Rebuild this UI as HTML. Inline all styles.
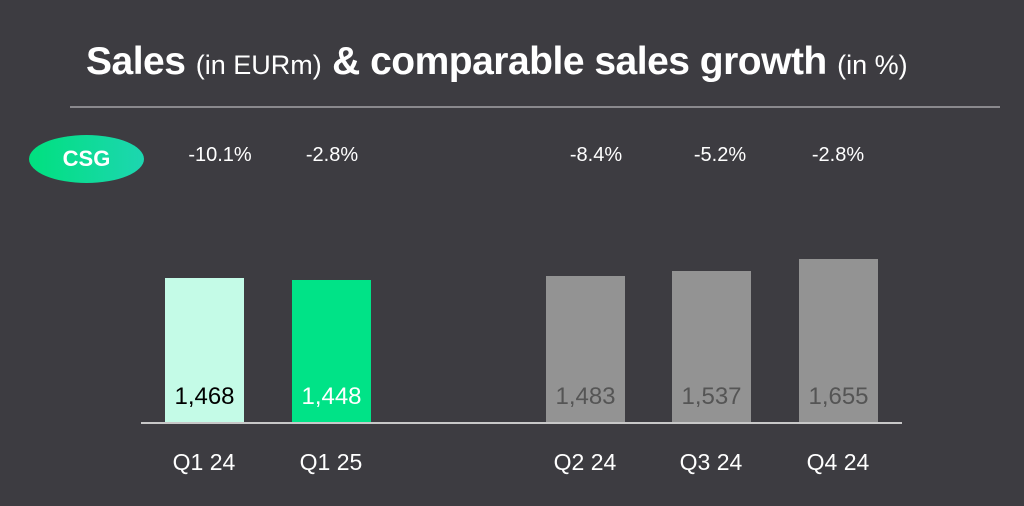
<!DOCTYPE html>
<html><head><style>
body{margin:0;width:1024px;height:506px;background:#3d3c41;font-family:"Liberation Sans",sans-serif;overflow:hidden;position:relative;color:#fff}
.a{position:absolute}
.t{left:86px;top:40px;font-size:39px;font-weight:bold;white-space:nowrap;letter-spacing:-0.5px}
.t span{font-weight:normal;font-size:27px;letter-spacing:0}
.bar{position:absolute;width:79px}
.v{position:absolute;width:79px;text-align:center;font-size:24px;top:383px}
.p{position:absolute;width:120px;text-align:center;font-size:20px;top:144px}
.q{position:absolute;width:120px;text-align:center;font-size:23px;top:449px}
</style></head><body>
<div class="a t">Sales <span>(in EURm)</span> &amp; comparable sales growth <span>(in %)</span></div>
<div class="a" style="left:70px;top:106px;width:930px;height:2px;background:#8a898d"></div>
<div class="a" style="left:29px;top:135px;width:115px;height:48px;border-radius:50%;background:linear-gradient(90deg,#00e07f,#1dd6b0);font-weight:bold;font-size:22px;text-align:center;line-height:48px">CSG</div>
<div class="p" style="left:160px">-10.1%</div>
<div class="p" style="left:272px">-2.8%</div>
<div class="p" style="left:536px">-8.4%</div>
<div class="p" style="left:660px">-5.2%</div>
<div class="p" style="left:778px">-2.8%</div>
<div class="bar" style="left:165px;top:278px;height:145px;background:#c4fbe7"></div>
<div class="bar" style="left:292px;top:280px;height:143px;background:#00e387"></div>
<div class="bar" style="left:546px;top:276px;height:147px;background:#939393"></div>
<div class="bar" style="left:672px;top:271px;height:152px;background:#939393"></div>
<div class="bar" style="left:799px;top:259px;height:164px;background:#939393"></div>
<div class="v" style="left:165px;color:#000">1,468</div>
<div class="v" style="left:292px;color:#fff">1,448</div>
<div class="v" style="left:546px;color:#555">1,483</div>
<div class="v" style="left:672px;color:#555">1,537</div>
<div class="v" style="left:799px;color:#555">1,655</div>
<div class="a" style="left:141px;top:422px;width:761px;height:2px;background:#c8c8c8"></div>
<div class="q" style="left:144px">Q1 24</div>
<div class="q" style="left:271px">Q1 25</div>
<div class="q" style="left:525px">Q2 24</div>
<div class="q" style="left:651px">Q3 24</div>
<div class="q" style="left:778px">Q4 24</div>
</body></html>
